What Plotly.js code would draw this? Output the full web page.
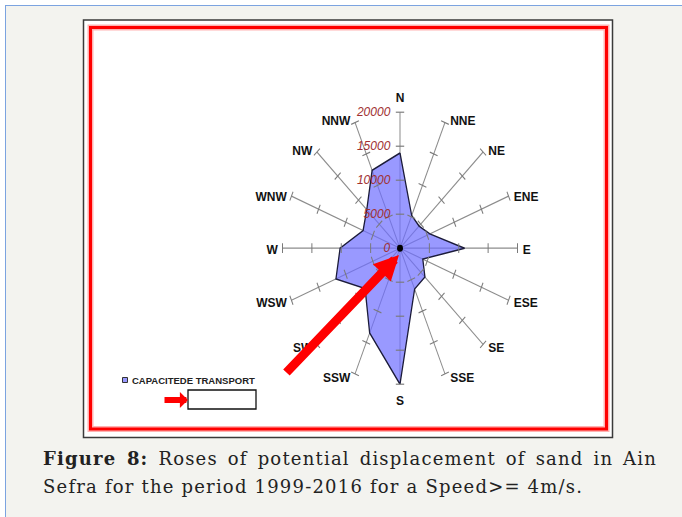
<!DOCTYPE html>
<html><head><meta charset="utf-8">
<script src="https://cdn.plot.ly/plotly-3.0.1.min.js"></script>
<style>
html,body{margin:0;padding:0;background:#fff;overflow:hidden}#chart{width:682px;height:517px}
text[data-unformatted^="Sefra"]{letter-spacing:1.2px}
text[data-unformatted^="<b>Figure"]{letter-spacing:1.2px;word-spacing:3px}
</style>
</head><body><div id="chart"></div>
<script>
// ---- data ----
const directions = ['N','NNE','NE','ENE','E','ESE','SE','SSE','S','SSW','SW','WSW','W','WNW','NW','NNW'];
const transportCapacity = [14000,5200,4600,5500,11000,4200,6000,6500,20000,13500,8400,11800,10200,6800,8000,12400];
const radialTicks = [0,5000,10000,15000,20000];
const radialTickLabels = ['0','5000','10000','15000','20000'];
const seriesName = 'CAPACITEDE TRANSPORT';
const captionBold = 'Figure 8:';
const captionLine1 = ' Roses of potential displacement of sand in Ain';
const captionLine2 = 'Sefra for the period 1999-2016 for a Speed>= 4m/s.';

// ---- helpers (layout geometry only) ----
const W = 682, H = 517;
const px = x => x / W, py = y => 1 - y / H;
const CX = 400, CY = 248.2, RX = 117.5, RY = 136;

const rClosed = transportCapacity.concat([transportCapacity[0]]);
const tClosed = directions.concat([directions[0]]);

const tickR = [], tickT = [], tickA = [];
directions.forEach((d, i) => {
  radialTicks.slice(1).forEach(v => { tickR.push(v); tickT.push(d); tickA.push(i * 360 / directions.length); });
});

const data = [
  {type:'scatterpolar', name: seriesName, r: rClosed, theta: tClosed, mode:'lines', fill:'toself',
   fillcolor:'rgba(110,110,255,0.7)', line:{color:'#1c1c3a', width:1.3}, showlegend:false, hoverinfo:'skip'},
  {type:'scatterpolar', r: tickR, theta: tickT, mode:'markers', cliponaxis:false, showlegend:false, hoverinfo:'skip',
   marker:{symbol:'line-ew', size:6, angle: tickA, line:{color:'#7a7a7a', width:1}}},
  {type:'scatterpolar', r:[0], theta:[directions[0]], mode:'markers', showlegend:false, hoverinfo:'skip', cliponaxis:false,
   marker:{color:'#000', size:6}}
];

const font = 'Liberation Sans, Arial, sans-serif';
const capFont = {family:'DejaVu Serif, serif', size:18, color:'#222'};
const layout = {
  width: W, height: H, margin:{l:0,r:0,t:0,b:0}, paper_bgcolor:'#ffffff', showlegend:false,
  polar: {
    domain: {x:[px(CX-RX), px(CX+RX)], y:[py(CY+RX), py(CY-RX)]},
    bgcolor:'rgba(0,0,0,0)',
    angularaxis: {type:'category', categoryarray: directions, rotation:90, direction:'clockwise',
      showgrid:true, gridcolor:'#8c8c8c', gridwidth:1, showline:false,
      ticks:'outside', ticklen:2, tickcolor:'rgba(0,0,0,0)',
      tickfont:{family:font, size:12, color:'#111', weight:'bold'}},
    radialaxis: {range:[0,20000], angle:90, side:'counterclockwise', tickmode:'array', tickangle:90,
      tickvals: radialTicks, ticktext: radialTickLabels, showgrid:false, showline:false,
      ticks:'outside', ticklen:5, tickcolor:'rgba(0,0,0,0)',
      tickfont:{family:font, size:12, color:'#a03030', style:'italic'}}
  },
  shapes: [
    {type:'rect', xref:'paper', yref:'paper', x0:px(5), x1:px(682), y0:py(5), y1:py(517), fillcolor:'#f3f3ef', line:{width:0}, layer:'below'},
    {type:'line', xref:'paper', yref:'paper', x0:px(5.5), x1:px(5.5), y0:py(5), y1:py(517), line:{color:'#7ba3e0', width:1}, layer:'below'},
    {type:'line', xref:'paper', yref:'paper', x0:px(5), x1:px(682), y0:py(5.5), y1:py(5.5), line:{color:'#7ba3e0', width:1}, layer:'below'},
    {type:'rect', xref:'paper', yref:'paper', x0:px(83.5), x1:px(612.5), y0:py(20), y1:py(437.5), fillcolor:'#ffffff', line:{color:'#3a3a3a', width:1.5}, layer:'below'},
    {type:'rect', xref:'paper', yref:'paper', x0:px(90.5), x1:px(606.5), y0:py(27.5), y1:py(429), line:{color:'rgba(255,0,0,0.3)', width:6}, layer:'below'},
    {type:'rect', xref:'paper', yref:'paper', x0:px(90.5), x1:px(606.5), y0:py(27.5), y1:py(429), line:{color:'#ff0000', width:3}, layer:'below'},
    {type:'rect', xref:'paper', yref:'paper', x0:px(122.5), x1:px(127.5), y0:py(377.5), y1:py(382.5), fillcolor:'#9999ff', line:{color:'#333', width:1}, layer:'below'},
    {type:'rect', xref:'paper', yref:'paper', x0:px(188), x1:px(256), y0:py(390), y1:py(409), fillcolor:'#ffffff', line:{color:'#111', width:1.3}, layer:'below'}
  ],
  annotations: [
    {xref:'paper', yref:'paper', x:px(130), y:py(380), xanchor:'left', yanchor:'middle', showarrow:false,
     text:seriesName, font:{family:font, size:9.5, color:'#222', weight:'bold'}},
    {xref:'paper', yref:'paper', x:px(399), y:py(255), ax:-114, ay:119, showarrow:true, text:'',
     arrowhead:2, arrowsize:0.55, arrowwidth:9, arrowcolor:'#ff0000'},
    {xref:'paper', yref:'paper', x:px(188), y:py(400), ax:-25, ay:0, showarrow:true, text:'',
     arrowhead:1, arrowsize:0.45, arrowwidth:6, arrowcolor:'#ff0000'},
    {xref:'paper', yref:'paper', x:px(41), y:py(458), xanchor:'left', yanchor:'middle', showarrow:false,
     text:'<b>'+captionBold+'</b>'+captionLine1, font:capFont},
    {xref:'paper', yref:'paper', x:px(41), y:py(486.5), xanchor:'left', yanchor:'middle', showarrow:false,
     text:captionLine2, font:capFont}
  ]
};

Plotly.newPlot('chart', data, layout, {staticPlot:true, displayModeBar:false}).then(gd => {
  const k = RY / RX;
  const layer = gd.querySelector('.polarlayer');
  if (!layer) return;
  const holder = document.createElementNS('http://www.w3.org/2000/svg', 'g');
  holder.setAttribute('class', 'rose-labels');
  layer.parentNode.insertBefore(holder, layer.nextSibling);
  const sr = layer.ownerSVGElement.getBoundingClientRect();
  // re-home a library-drawn label outside the stretched layer, at a target position
  const place = (t, tgt) => {
    const m = t.getCTM();
    const base = 'matrix(' + [m.a, m.b, m.c, m.d, m.e, m.f].join(',') + ')';
    const c = t.cloneNode(true);
    c.setAttribute('transform', base);
    holder.appendChild(c);
    t.style.visibility = 'hidden';
    const b = c.getBoundingClientRect();
    const l = b.left - sr.left, r = b.right - sr.left, cy = b.top - sr.top + b.height / 2;
    let dx = 0;
    if (tgt.left != null) dx = tgt.left - l;
    else if (tgt.right != null) dx = tgt.right - r;
    else if (tgt.cx != null) dx = tgt.cx - (l + r) / 2;
    const dy = tgt.cy != null ? tgt.cy - cy : 0;
    c.setAttribute('transform', 'translate(' + dx + ',' + dy + ') ' + base);
  };
  layer.querySelectorAll('g.angularaxistick text').forEach(t => {
    const i = directions.indexOf(t.textContent.trim());
    if (i < 0) return;
    const th = i * 2 * Math.PI / directions.length;
    const s = Math.sin(th), co = Math.cos(th);
    const ex = CX + RX * s, ey = CY - RY * co;
    if (Math.abs(s) < 0.1) place(t, {cx: ex, cy: co > 0 ? ey - 14 : ey + 17});
    else if (s > 0) place(t, {left: ex + 5.2, cy: ey + 1.5 - 3 * co});
    else place(t, {right: ex - 4, cy: ey + 1.5 - 3 * co});
  });
  layer.querySelectorAll('.radial-axis text').forEach(t => {
    const b = t.getBoundingClientRect();
    const cy = b.top - sr.top + b.height / 2;
    place(t, {cy: CY + k * (cy - CY)});
  });
  // stretch the rose vertically to the reference's elliptical shape
  layer.setAttribute('transform', 'matrix(1,0,0,' + k + ',0,' + (CY * (1 - k)) + ')');
});
</script></body></html>
